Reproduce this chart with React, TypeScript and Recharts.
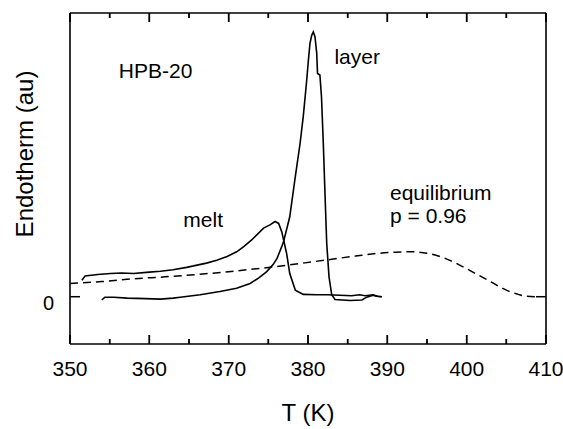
import React from 'react'
import { LineChart, Line, XAxis, YAxis, ReferenceDot, ReferenceLine } from 'recharts'

// ─── Data (T in K, endotherm in arbitrary units) ───────────────
const LAYER: [number, number][] = [
  [354.0, -0.07], [354.4, -0.01], [355.5, -0.01], [357.2, -0.03], [359.5, -0.04],
  [361.4, -0.05], [363.0, -0.03], [363.9, -0.01], [366.4, 0.04], [368.9, 0.11],
  [371.0, 0.18], [372.7, 0.28], [373.8, 0.4], [374.8, 0.53], [375.6, 0.68],
  [376.1, 0.81], [376.9, 1.15], [377.7, 1.69], [378.4, 2.54], [379.0, 3.24],
  [379.4, 3.81], [379.8, 4.51], [380.05, 5.0], [380.25, 5.36], [380.47, 5.53],
  [380.67, 5.6], [380.88, 5.5], [381.1, 5.15], [381.2, 4.72], [381.5, 4.69],
  [381.7, 4.23], [381.93, 3.24], [382.14, 2.19], [382.36, 1.13], [382.65, 0.42],
  [382.99, 0.04], [383.4, -0.06], [385.3, -0.08], [386.8, -0.07], [387.4, -0.01],
  [388.2, 0.03], [388.6, 0.01], [389.3, 0],
]

const MELT: [number, number][] = [
  [351.5, 0.35], [351.9, 0.44], [353.5, 0.47], [355.1, 0.49], [356.5, 0.5],
  [358.0, 0.49], [360.0, 0.52], [361.4, 0.54], [363.0, 0.57], [364.7, 0.62],
  [367.2, 0.71], [368.5, 0.77], [369.8, 0.85], [371.0, 0.95], [371.9, 1.06],
  [372.9, 1.2], [374.4, 1.45], [375.2, 1.52], [375.85, 1.59], [376.3, 1.55],
  [376.7, 1.37], [377.3, 0.92], [377.7, 0.49], [378.4, 0.14], [379.4, 0.05],
  [381.1, 0.04], [382.4, 0.04], [384.0, 0.03], [385.5, 0.02], [386.5, 0.04],
  [387.2, 0.02], [388.2, 0.04], [388.8, 0.01], [389.3, 0],
]

const EQUILIBRIUM: [number, number][] = [
  [350, 0.28], [354, 0.32], [358, 0.38], [362, 0.42], [366, 0.47], [370, 0.53],
  [374, 0.6], [378, 0.68], [382, 0.77], [386, 0.86], [389, 0.92], [391, 0.94],
  [393, 0.95], [395, 0.92], [397, 0.83], [399, 0.68], [401, 0.5], [403, 0.32],
  [405, 0.14], [406.5, 0.05], [407.5, 0.01], [409, 0],
]

const MAJOR_TICKS = [350, 360, 370, 380, 390, 400, 410]
const MINOR_TICKS = [355, 365, 375, 385, 395, 405]
const X_TICKS = [...MAJOR_TICKS, ...MINOR_TICKS].sort((a, b) => a - b)
const Y_TICKS = [0]

// text notes placed in data coordinates (left edge, baseline)
const NOTES: { text: string; T: number; v: number }[] = [
  { text: 'HPB-20', T: 356.15, v: 4.62 },
  { text: 'layer', T: 383.33, v: 4.93 },
  { text: 'melt', T: 364.29, v: 1.48 },
  { text: 'equilibrium', T: 390.34, v: 2.04 },
  { text: 'p = 0.96', T: 390.34, v: 1.55 },
]

const toRows = (pts: [number, number][]) => pts.map(([T, v]) => ({ T, v }))

const FONT = '"Liberation Sans", Arial, Helvetica, sans-serif'
const INK = '#000'
const X_DOMAIN: [number, number] = [350, 410]
const Y_DOMAIN: [number, number] = [-1, 6]
const FRAME = { stroke: INK, strokeWidth: 1.6 }
const TICK = { stroke: INK, strokeWidth: 1.5 }
const noLabel = () => <g />

const W = 563
const H = 429
const MARGIN = { top: 13, right: 17, bottom: 0, left: 0 }
const X_AXIS_H = 85
const X_LABEL_GAP = 17
const PX_PER_UNIT = (H - MARGIN.top - X_AXIS_H) / (Y_DOMAIN[1] - Y_DOMAIN[0])
const tickPx = (T: number) => (T % 10 === 0 ? 9 : 5)

// bottom axis tick: inward marks on the bottom and top frame, label on the tens
function XTick(p: any) {
  const value = Number(p.payload.value)
  const len = tickPx(value)
  const axisY = Number(p.y) - X_LABEL_GAP
  const x = Number(p.x)
  return (
    <g>
      <path d={`M${x},${axisY}V${axisY - len}`} stroke={INK} strokeWidth={1.5} fill="none" />
      <path d={`M${x},${MARGIN.top}V${MARGIN.top + len}`} stroke={INK} strokeWidth={1.5} fill="none" />
      {value % 10 === 0 && (
        <text x={x} y={Number(p.y) + 15} textAnchor="middle" fontSize={21} fill={INK} fontFamily={FONT}>
          {value}
        </text>
      )}
    </g>
  )
}

const yTickAxis = { type: 'number' as const, domain: Y_DOMAIN, allowDataOverflow: true, ticks: Y_TICKS, interval: 0 as const, mirror: true, width: 1, tick: noLabel, tickLine: TICK, tickSize: 10 }

export default function App() {
  return (
    <div style={{ position: 'absolute', left: 0, top: 0, background: '#fff', fontFamily: FONT }}>
      <LineChart width={W} height={H} margin={MARGIN}>
        <XAxis
          xAxisId="main"
          type="number"
          dataKey="T"
          domain={X_DOMAIN}
          allowDataOverflow
          ticks={X_TICKS}
          interval={0}
          height={X_AXIS_H}
          tickLine={false}
          tickSize={0}
          tickMargin={X_LABEL_GAP}
          axisLine={FRAME}
          tick={XTick}
          label={{ value: 'T (K)', position: 'insideBottom', offset: 8, fontSize: 24, fill: INK, fontFamily: FONT }}
        />
        <XAxis xAxisId="top" orientation="top" type="number" domain={X_DOMAIN} allowDataOverflow mirror height={1}
          ticks={[]} tick={noLabel} tickLine={false} axisLine={FRAME} />

        <YAxis
          yAxisId="main"
          type="number"
          domain={Y_DOMAIN}
          allowDataOverflow
          ticks={Y_TICKS}
          interval={0}
          width={70}
          tickLine={false}
          tickSize={0}
          tickMargin={16}
          axisLine={FRAME}
          tick={(p: any) => (
            <text x={p.x} y={p.y + 13} textAnchor="end" fontSize={20} fill={INK} fontFamily={FONT}>
              {p.payload.value}
            </text>
          )}
          label={() => (
            <text transform="rotate(-90)" x={-154} y={33} textAnchor="middle" fontSize={24} fill={INK} fontFamily={FONT}>
              Endotherm (au)
            </text>
          )}
        />
        <YAxis yAxisId="lTick" {...yTickAxis} axisLine={false} />
        <YAxis yAxisId="right" {...yTickAxis} orientation="right" axisLine={FRAME} />

        {/* backup for the inward x ticks, through the chart scales */}
        {X_TICKS.map((T) => (
          <ReferenceLine
            key={`b${T}`}
            xAxisId="main"
            yAxisId="main"
            ifOverflow="visible"
            segment={[{ x: T, y: Y_DOMAIN[0] }, { x: T, y: Y_DOMAIN[0] + tickPx(T) / PX_PER_UNIT }]}
            stroke={INK}
            strokeWidth={1.5}
          />
        ))}
        {X_TICKS.map((T) => (
          <ReferenceLine
            key={`t${T}`}
            xAxisId="main"
            yAxisId="main"
            ifOverflow="visible"
            segment={[{ x: T, y: Y_DOMAIN[1] }, { x: T, y: Y_DOMAIN[1] - tickPx(T) / PX_PER_UNIT }]}
            stroke={INK}
            strokeWidth={1.5}
          />
        ))}

        <Line xAxisId="main" yAxisId="main" data={toRows(EQUILIBRIUM)} dataKey="v" type="monotone"
          stroke={INK} strokeWidth={1.5} strokeDasharray="8 5" dot={false} isAnimationActive={false} />
        <Line xAxisId="main" yAxisId="main" data={toRows(MELT)} dataKey="v" type="linear"
          stroke={INK} strokeWidth={1.6} dot={false} isAnimationActive={false} />
        <Line xAxisId="main" yAxisId="main" data={toRows(LAYER)} dataKey="v" type="linear"
          stroke={INK} strokeWidth={1.6} dot={false} isAnimationActive={false} />

        {NOTES.map((n) => (
          <ReferenceDot
            key={n.text}
            xAxisId="main"
            yAxisId="main"
            x={n.T}
            y={n.v}
            r={0}
            fill="none"
            stroke="none"
            label={(p: any) => (
              <text x={p.viewBox.x} y={p.viewBox.y} fontSize={21} fill={INK} fontFamily={FONT}>
                {n.text}
              </text>
            )}
          />
        ))}
      </LineChart>
    </div>
  )
}
